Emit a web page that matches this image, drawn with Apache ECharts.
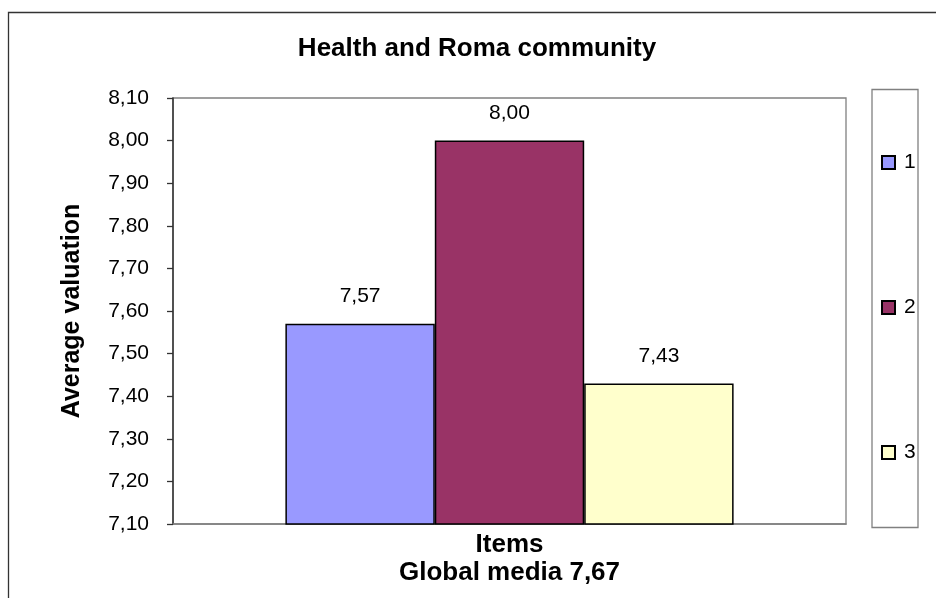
<!DOCTYPE html>
<html>
<head>
<meta charset="utf-8">
<script src="https://cdn.jsdelivr.net/npm/echarts@6/dist/echarts.min.js"></script>
<style>
  html, body { margin: 0; padding: 0; background: #ffffff; }
  #chart { width: 936px; height: 598px; }
</style>
</head>
<body>
<div id="chart"></div>
<script>
// Chart data
const chartTitle = 'Health and Roma community';
const categories = ['Items'];
const seriesNames = ['1', '2', '3'];
const seriesValues = [7.57, 8.00, 7.43];
const seriesColors = ['#9999FF', '#993366', '#FFFFCC'];
const yMin = 7.1;
const yMax = 8.1;
const yStep = 0.1;
const yAxisTitle = 'Average valuation';
const xAxisTitle = 'Items\nGlobal media 7,67';

const FONT = '"Liberation Sans", Arial, Helvetica, sans-serif';
const fmt = v => Number(v).toFixed(2).replace('.', ',');

const chart = echarts.init(document.getElementById('chart'), null, { renderer: 'canvas' });

const series = seriesNames.map((name, i) => ({
  name: name,
  type: 'bar',
  data: [seriesValues[i]],
  barGap: '0%',
  barCategoryGap: '33.4%',
  itemStyle: { color: seriesColors[i], borderColor: '#000000', borderWidth: 1.5 },
  label: {
    show: true,
    position: 'top',
    distance: 17,
    formatter: p => fmt(p.value),
    fontFamily: FONT,
    fontSize: 21,
    color: '#000000'
  }
}));

chart.setOption({
  animation: false,
  backgroundColor: '#ffffff',
  textStyle: { fontFamily: FONT },
  title: {
    text: chartTitle,
    left: 477,
    top: 36,
    padding: 0,
    textAlign: 'center',
    textStyle: { fontFamily: FONT, fontSize: 26, fontWeight: 'bold', color: '#000000' }
  },
  graphic: [
    { // outer chart frame
      type: 'rect', z: -10, silent: true,
      shape: { x: 8.5, y: 12.5, width: 1000, height: 1000 },
      style: { fill: '#ffffff', stroke: '#333333', lineWidth: 1.3 }
    },
    { // legend frame
      type: 'rect', z: -5, silent: true,
      shape: { x: 872, y: 89.5, width: 46, height: 438 },
      style: { fill: 'transparent', stroke: '#808080', lineWidth: 1.3 }
    }
  ],
  legend: {
    orient: 'vertical',
    left: 881,
    top: 152,
    padding: 0,
    itemWidth: 13,
    itemHeight: 13,
    itemGap: 124,
    icon: 'rect',
    textStyle: { fontFamily: FONT, fontSize: 21, color: '#000000', lineHeight: 21, padding: [0, 0, 0, 4] },
    data: seriesNames
  },
  grid: {
    left: 173, top: 98, right: 90, bottom: 74,
    show: true, borderColor: '#808080', borderWidth: 1.3, backgroundColor: 'transparent'
  },
  xAxis: {
    type: 'category',
    data: categories,
    name: xAxisTitle,
    nameLocation: 'middle',
    nameGap: 7,
    nameTextStyle: { fontFamily: FONT, fontSize: 26, fontWeight: 'bold', color: '#000000', lineHeight: 28 },
    axisLine: { lineStyle: { color: '#808080', width: 1.5 } },
    axisTick: { show: false },
    axisLabel: { show: false }
  },
  yAxis: {
    type: 'value',
    min: yMin,
    max: yMax,
    interval: yStep,
    name: yAxisTitle,
    nameLocation: 'middle',
    nameGap: 88,
    nameTextStyle: { fontFamily: FONT, fontSize: 25, fontWeight: 'bold', color: '#000000' },
    axisLine: { show: true, lineStyle: { color: '#333333', width: 1.5 } },
    axisTick: { show: true, inside: false, length: 6, lineStyle: { color: '#333333', width: 1.3 } },
    axisLabel: { formatter: v => fmt(v), margin: 24, fontFamily: FONT, fontSize: 21, color: '#000000' },
    splitLine: { show: false }
  },
  series: series
});
</script>
</body>
</html>
